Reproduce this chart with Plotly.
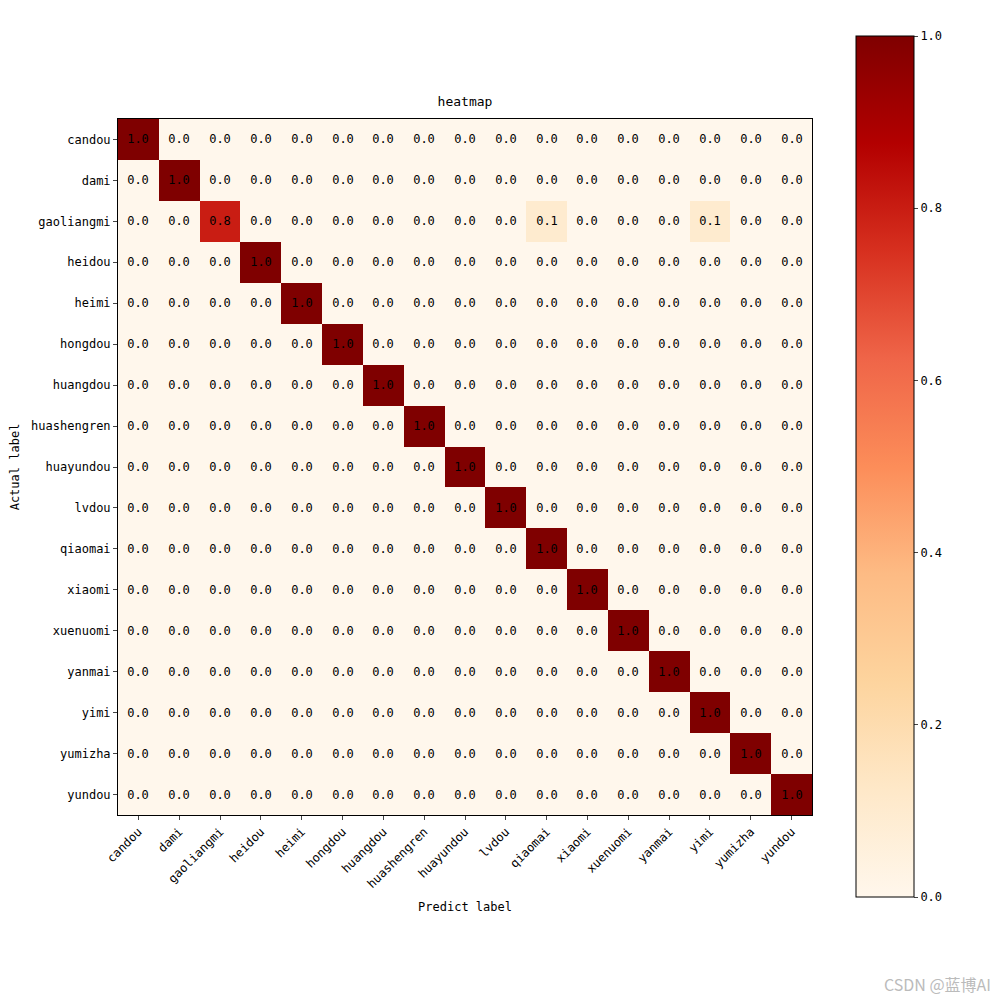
import numpy as np
import plotly.graph_objects as go

labels = ['candou', 'dami', 'gaoliangmi', 'heidou', 'heimi', 'hongdou', 'huangdou',
          'huashengren', 'huayundou', 'lvdou', 'qiaomai', 'xiaomi', 'xuenuomi',
          'yanmai', 'yimi', 'yumizha', 'yundou']
n = len(labels)
z = np.eye(n)
# gaoliangmi row
z[2] = 0.0
z[2][2] = 0.8
z[2][10] = 0.1
z[2][14] = 0.1

font = "DejaVu Sans Mono, Noto Sans CJK SC"

fig = go.Figure(go.Heatmap(
    z=z, x=labels, y=labels,
    colorscale='OrRd', zmin=0, zmax=1,
    text=[[f"{v:.1f}" for v in row] for row in z],
    texttemplate="%{text}", textfont=dict(size=12, color='black', family=font),
    colorbar=dict(x=0.848, xanchor='left', xref='paper', y=0.111, yanchor='bottom',
                  xpad=0, ypad=0,
                  len=0.861, lenmode='fraction', thickness=58, thicknessmode='pixels',
                  outlinewidth=1, outlinecolor='black', ticks='outside', ticklen=4,
                  tickvals=[0, 0.2, 0.4, 0.6, 0.8, 1.0], tickformat='.1f',
                  tickfont=dict(size=12, family=font)),
))

fig.update_layout(
    width=1000, height=1000, margin=dict(l=0, r=0, t=0, b=0, autoexpand=False),
    paper_bgcolor='white', plot_bgcolor='white',
    font=dict(family=font, size=12, color='black'),
    title=dict(text='heatmap', x=0.457, xanchor='center', y=0.902, yanchor='bottom',
               font=dict(size=13)),
    xaxis=dict(domain=[0.110, 0.804], tickangle=-45, ticks='outside', ticklen=4,
               showline=True, linecolor='black', mirror=True, showgrid=False,
               automargin=False,
               title=dict(text='Predict label', standoff=12, font=dict(size=12))),
    yaxis=dict(domain=[0.193, 0.889], autorange='reversed', ticks='outside', ticklen=4,
               showline=True, linecolor='black', mirror=True, showgrid=False,
               automargin=False,
               title=dict(text='Actual label', standoff=8, font=dict(size=12))),
    annotations=[dict(text='CSDN @蓝博AI', x=0.985, y=0.01, xref='paper', yref='paper',
                      xanchor='right', yanchor='bottom', showarrow=False,
                      font=dict(size=16, color='#bbbbbb', family='Noto Sans CJK SC'))],
)

fig.write_html("out.html")
